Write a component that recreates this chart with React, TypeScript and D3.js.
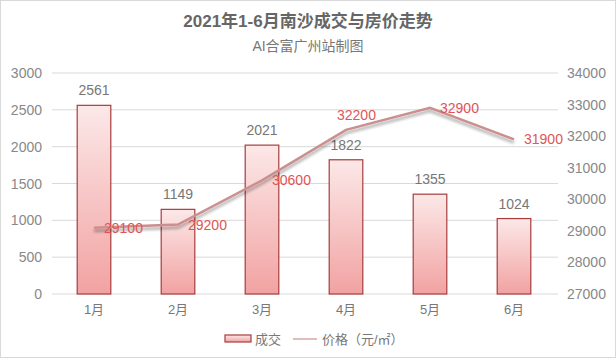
import React from "react"
import * as d3 from "d3"

const months = ["1月", "2月", "3月", "4月", "5月", "6月"]
const deals = [2561, 1149, 2021, 1822, 1355, 1024]
const prices = [29100, 29200, 30600, 32200, 32900, 31900]
const leftTicks = [0, 500, 1000, 1500, 2000, 2500, 3000]
const rightTicks = [27000, 28000, 29000, 30000, 31000, 32000, 33000, 34000]

const W = 616
const H = 358
const font = "'Liberation Sans', Arial, 'Noto Sans CJK SC', sans-serif"

const App = () => {
  const top = 73
  const bottom = 294
  const x = d3.scaleBand().domain(months).range([52, 556]).paddingInner(0.6).paddingOuter(0.3)
  const yL = d3.scaleLinear().domain([0, 3000]).range([bottom, top])
  const yR = d3.scaleLinear().domain([27000, 34000]).range([bottom, top])
  const cx = (m) => x(m) + x.bandwidth() / 2

  const pts = prices.map((p, i) => [cx(months[i]), yR(p)])
  const line = d3.line()(pts)

  return (
    <svg width={W} height={H} style={{ position: "absolute", left: 0, top: 0 }} fontFamily={font}>
      <defs>
        <linearGradient id="barGrad" x1="0" y1="0" x2="0" y2="1">
          <stop offset="0%" stopColor="#fce8e8" />
          <stop offset="100%" stopColor="#f2a2a2" />
        </linearGradient>
        <filter id="shadow" x="-10%" y="-50%" width="120%" height="200%">
          <feGaussianBlur in="SourceAlpha" stdDeviation="1.5" />
          <feOffset dx="0" dy="3" result="b" />
          <feComponentTransfer><feFuncA type="linear" slope="0.35" /></feComponentTransfer>
          <feMerge>
            <feMergeNode />
            <feMergeNode in="SourceGraphic" />
          </feMerge>
        </filter>
      </defs>
      <rect x={0.5} y={0.5} width={W - 1} height={H - 1} fill="#fff" stroke="#d9d9d9" />

      <text x={308} y={27} textAnchor="middle" fontSize={17} fontWeight="bold" fill="#666">
        2021年1-6月南沙成交与房价走势
      </text>
      <text x={308} y={51} textAnchor="middle" fontSize={14} fill="#777">
        AI合富广州站制图
      </text>

      {leftTicks.map((t) => (
        <g key={"l" + t}>
          <line x1={52} x2={558} y1={yL(t)} y2={yL(t)} stroke="#d9d9d9" />
          <text x={42} y={yL(t) + 5} textAnchor="end" fontSize={14} fill="#888">{t}</text>
        </g>
      ))}
      {rightTicks.map((t) => (
        <text key={"r" + t} x={567} y={yR(t) + 5} fontSize={14} fill="#888">{t}</text>
      ))}

      {deals.map((d, i) => (
        <g key={"b" + i}>
          <rect
            x={x(months[i])}
            y={yL(d)}
            width={x.bandwidth()}
            height={bottom - yL(d)}
            fill="url(#barGrad)"
            stroke="#a83c3c"
            strokeWidth={1.2}
          />
          <text x={cx(months[i])} y={yL(d) - 10} textAnchor="middle" fontSize={14} fill="#777">{d}</text>
        </g>
      ))}

      {months.map((m) => (
        <text key={m} x={cx(m)} y={314} textAnchor="middle" fontSize={13} fill="#777">{m}</text>
      ))}

      <path d={line} fill="none" stroke="#cc8f8f" strokeWidth={2.5} filter="url(#shadow)" />
      {prices.map((p, i) => {
        const [px, py] = pts[i]
        const above = i === 3
        return (
          <text
            key={"p" + i}
            x={above ? px - 9 : px + 10}
            y={above ? py - 10 : py + 5}
            fontSize={14}
            fill="#e05555"
          >
            {p}
          </text>
        )
      })}

      <rect x={225} y={335} width={26} height={7} fill="url(#barGrad)" stroke="#a83c3c" strokeWidth={1.2} />
      <text x={255} y={344} fontSize={13} fill="#777">成交</text>
      <line x1={293} x2={317} y1={339} y2={339} stroke="#cc8f8f" strokeWidth={1.2} />
      <text x={322} y={344} fontSize={13} fill="#777">价格（元/㎡）</text>
    </svg>
  )
}

export default App
